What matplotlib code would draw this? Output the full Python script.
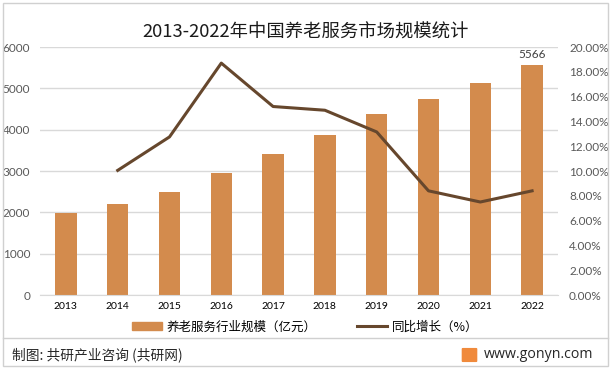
import matplotlib
matplotlib.use("Agg")
import matplotlib.pyplot as plt
from matplotlib.patches import Rectangle, FancyBboxPatch
from matplotlib.lines import Line2D

plt.rcParams['font.family'] = ['Noto Sans CJK SC', 'DejaVu Sans']

years = ['2013', '2014', '2015', '2016', '2017', '2018', '2019', '2020', '2021', '2022']
scale = [1990, 2200, 2490, 2960, 3400, 3880, 4390, 4750, 5120, 5566]
growth_years = years[1:]
growth = [10.05, 12.75, 18.7, 15.2, 14.9, 13.15, 8.4, 7.5, 8.4]

title = '2013-2022年中国养老服务市场规模统计'
bar_label = '养老服务行业规模（亿元）'
line_label = '同比增长（%）'
footer_left = '制图: 共研产业咨询 (共研网)'
footer_right = 'www.gonyn.com'

bar_color = '#D38B4D'
line_color = '#66472D'
grid_color = '#D9D9D9'
tick_color = '#595959'

W, H = 614, 371
fig = plt.figure(figsize=(W/100, H/100), dpi=100)
fig.patch.set_facecolor('white')

ax = fig.add_axes([40/W, (H-295)/H, 518/W, (295-47)/H])
x = list(range(len(years)))
ax.bar(x, scale, width=0.41, color=bar_color, zorder=2)
ax.set_xlim(-0.5, len(years) - 0.5)
ax.set_ylim(0, 6000)
ax.set_yticks(range(0, 6001, 1000))
ax.yaxis.grid(True, color=grid_color, linewidth=1, zorder=0)
ax.set_axisbelow(True)
for s in ['top', 'left', 'right']:
    ax.spines[s].set_visible(False)
ax.spines['bottom'].set_color(grid_color)
ax.tick_params(axis='y', length=0, labelsize=8.5, labelcolor=tick_color, pad=7)
ax.tick_params(axis='x', length=0, labelsize=7.5, labelcolor='black', pad=5)
ax.set_xticks(x)
ax.set_xticklabels(years)
for lbl in ax.get_yticklabels() + ax.get_xticklabels():
    lbl.set_fontfamily(['Lato', 'DejaVu Sans'])
ax.text(x[-1], scale[-1] + 120, str(scale[-1]), ha='center', va='bottom',
        fontsize=8.5, color='#404040', family=['Lato', 'DejaVu Sans'])

ax2 = ax.twinx()
gx = [years.index(y) for y in growth_years]
ax2.plot(gx, growth, color=line_color, linewidth=2.2, zorder=3)
ax2.set_ylim(0, 20)
ax2.set_yticks(range(0, 21, 2))
ax2.set_yticklabels([f'{v:.2f}%' for v in range(0, 21, 2)])
for s in ['top', 'left', 'right', 'bottom']:
    ax2.spines[s].set_visible(False)
ax2.tick_params(axis='y', length=0, labelsize=8.5, labelcolor=tick_color, pad=8)
for lbl in ax2.get_yticklabels():
    lbl.set_fontfamily(['Lato', 'DejaVu Sans'])

fig.text(306/W, (H-33)/H, title, ha='center', va='center', fontsize=13.2, color='#1a1a1a')

# legend
handles = [Rectangle((0, 0), 1, 1, color=bar_color),
           Line2D([0], [0], color=line_color, linewidth=2.2)]
leg = fig.legend(handles, [bar_label, line_label], loc='center left',
                 bbox_to_anchor=(132/W, (H-327)/H), ncol=2, frameon=False,
                 fontsize=9, handlelength=2.4, handleheight=0.6, columnspacing=3.2,
                 handletextpad=0.4, borderpad=0, borderaxespad=0)

# separator and footer
fig.add_artist(Line2D([3/W, 608/W], [(H-338)/H]*2, color='#D0D0D0', linewidth=1))
fig.text(12/W, (H-355)/H, footer_left, ha='left', va='center', fontsize=9.9, color='#262626')
fig.text(484/W, (H-355)/H, footer_right, ha='left', va='center', fontsize=10.2,
         color='#262626', family=['Open Sans', 'DejaVu Sans'])
fig.add_artist(FancyBboxPatch((463/W, (H-361)/H), 13/W, 12/H,
                              boxstyle='round,pad=0.001', color='#F08A3C', transform=fig.transFigure))

# outer border
fig.add_artist(Rectangle((3/W, (H-366)/H), 605/W, 363/H, fill=False,
                         edgecolor='#D0D0D0', linewidth=1, transform=fig.transFigure))

fig.savefig('out.png', dpi=100)
